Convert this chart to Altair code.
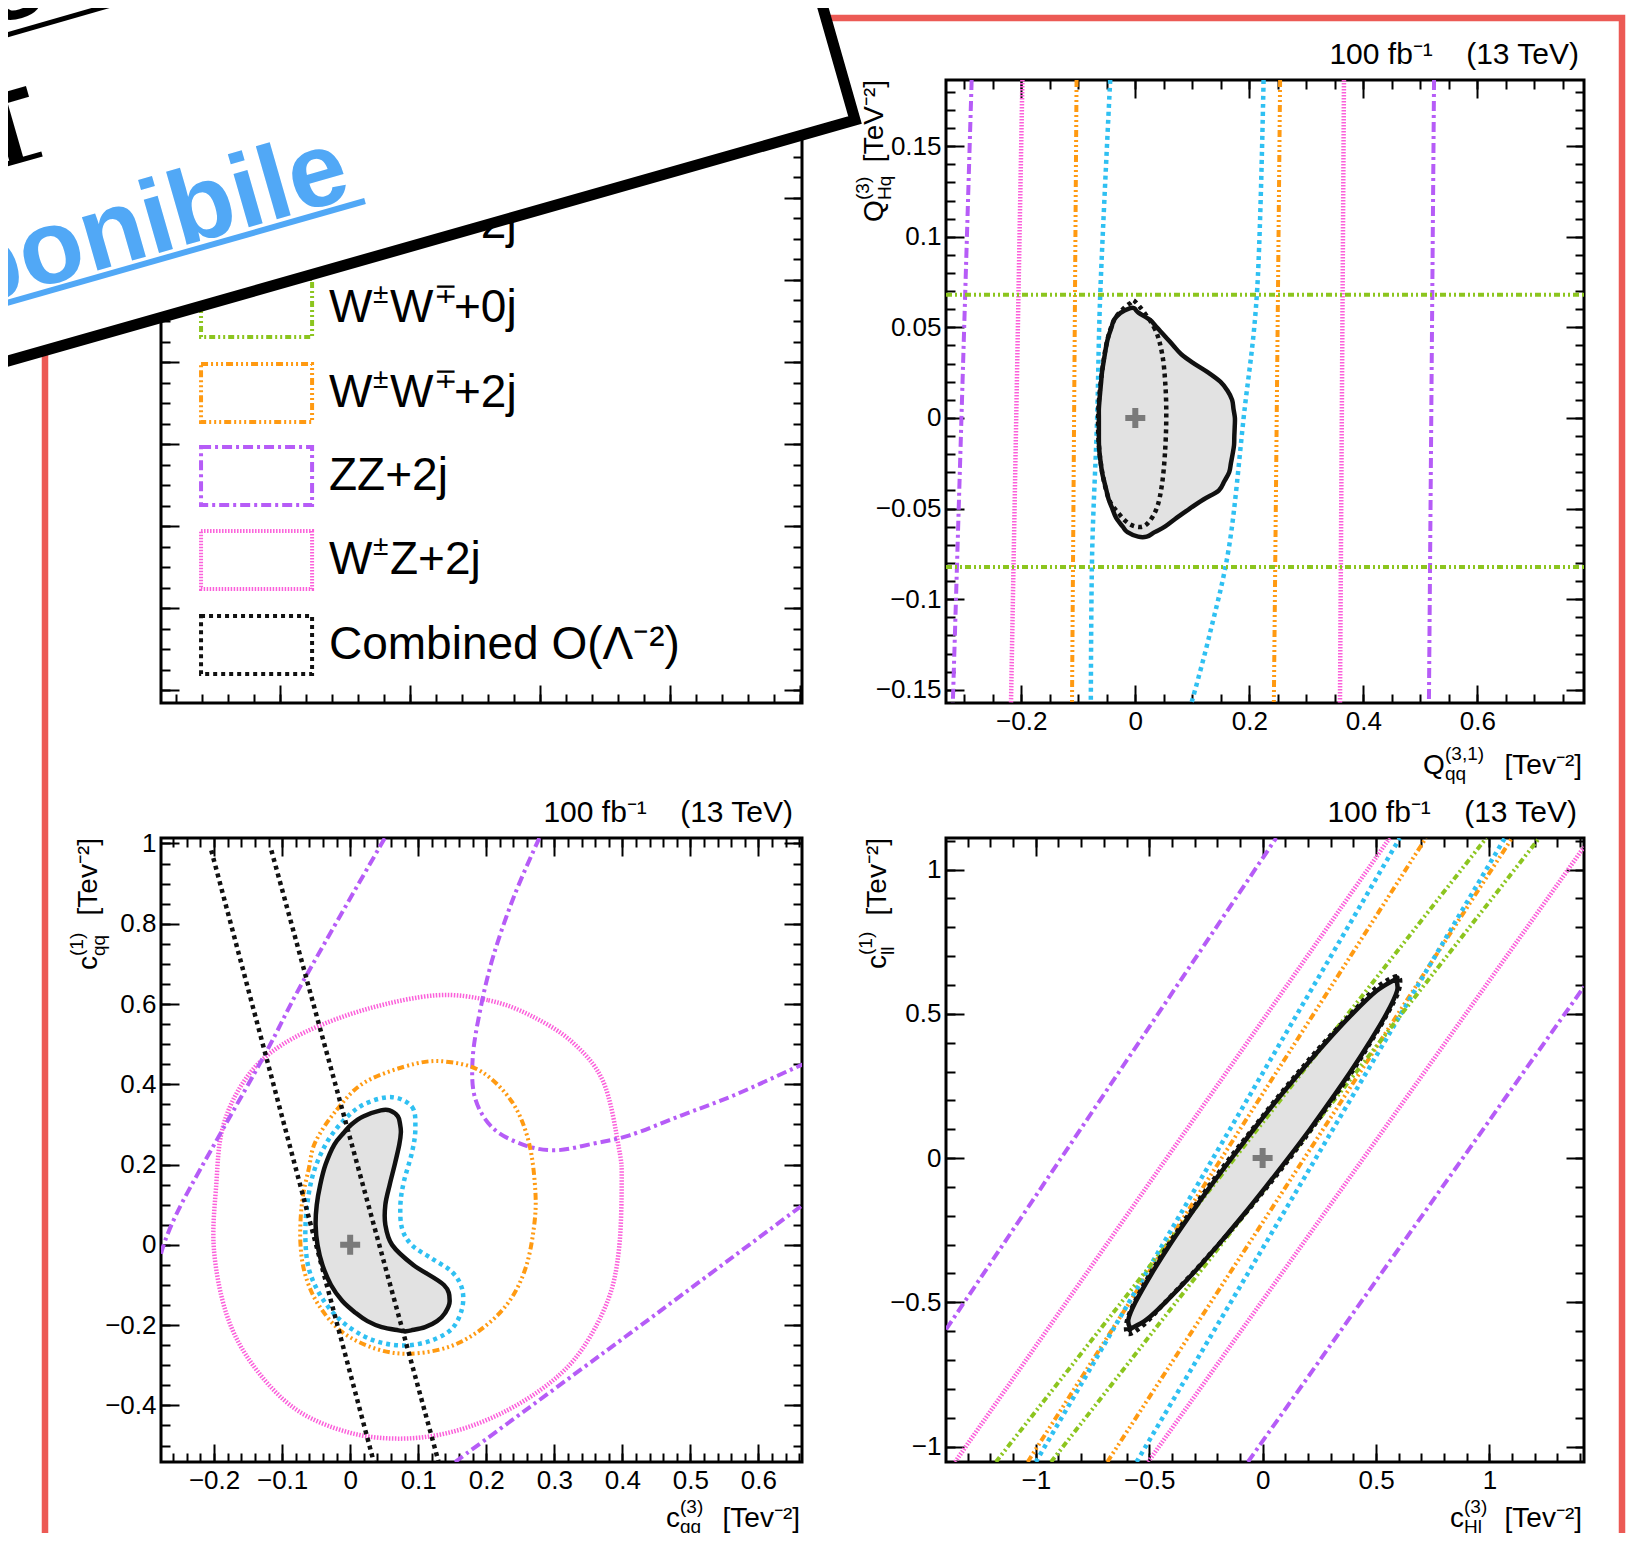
import altair as alt
import pandas as pd

FONT = "Liberation Sans, Arial, Helvetica, sans-serif"

# ---------------- colours & line styles ----------------
C_CYAN = "#2fc0f2"
C_GREEN = "#8cc51f"
C_ORANGE = "#ff9a12"
C_PURPLE = "#b65cf7"
C_PINK = "#fb60da"
C_BLACK = "#111111"
C_FILL = "#e2e2e2"
C_CROSS = "#7a7a7a"
RED = "#ec5a55"
BLUE = "#51a8f6"

STYLES = {
    "cyan": {"color": C_CYAN, "dash": [4, 4], "width": 4.5},
    "green": {"color": C_GREEN, "dash": [6, 3, 2, 3, 2, 3], "width": 4},
    "orange": {"color": C_ORANGE, "dash": [7, 3, 2, 3, 2, 3, 2, 3], "width": 4},
    "purple": {"color": C_PURPLE, "dash": [10, 4, 3, 4], "width": 4},
    "pink": {"color": C_PINK, "dash": [1.5, 1.5], "width": 4.5},
    "dotted": {"color": C_BLACK, "dash": [4, 4], "width": 4.5},
    "solid": {"color": C_BLACK, "dash": None, "width": 4.5},
}

# ---------------- panel sizes (px) ----------------
W_L, W_R = 641, 638
H_T, H_B = 623, 624
GAP_X, GAP_Y = 144, 135

sm_point = [0.0, 0.0]

# ================= top-right panel: Q_qq^(3,1) vs Q_Hq^(3) =================
tr_x_domain = [-0.332, 0.787]
tr_y_domain = [-0.1573, 0.1865]
tr_x_major = [-0.2, 0.0, 0.2, 0.4, 0.6]
tr_y_major = [-0.15, -0.1, -0.05, 0.0, 0.05, 0.1, 0.15]
tr_fill_y = [0.0605, 0.058, 0.054, 0.050, 0.045, 0.040, 0.035, 0.030, 0.025, 0.020, 0.015, 0.010, 0.005,
             0.000, -0.005, -0.010, -0.015, -0.020, -0.025, -0.030, -0.035, -0.040, -0.045, -0.050,
             -0.055, -0.060, -0.063, -0.0655]
tr_fill_xl = [-0.010, -0.026, -0.0376, -0.0417, -0.0471, -0.0508, -0.0535, -0.0561, -0.0585, -0.0599,
              -0.0614, -0.0628, -0.0639, -0.0639, -0.0639, -0.0639, -0.0637, -0.0625, -0.0605, -0.0583,
              -0.0546, -0.0506, -0.0466, -0.0403, -0.0338, -0.022, -0.0137, 0.005]
tr_fill_xr = [-0.002, 0.006, 0.0262, 0.0377, 0.0524, 0.0666, 0.0811, 0.1031, 0.1281, 0.1491, 0.1618,
              0.1698, 0.1722, 0.1747, 0.1744, 0.1737, 0.1732, 0.1707, 0.1677, 0.1647, 0.1561, 0.1465,
              0.1196, 0.0956, 0.073, 0.0519, 0.034, 0.020]
tr_dot_x = [0.0004, 0.0326, 0.047, 0.053, 0.0543, 0.052, 0.047, 0.0384, 0.0239, 0.0091, -0.0112, -0.0288,
            -0.046, -0.058, -0.0645, -0.0645, -0.058, -0.049, -0.037, -0.022, -0.008]
tr_dot_y = [0.064, 0.0502, 0.0355, 0.0171, -0.0013, -0.0197, -0.0363, -0.0491, -0.0574, -0.0602, -0.0583,
            -0.0528, -0.045, -0.030, -0.012, 0.006, 0.0263, 0.043, 0.054, 0.060, 0.0635]
tr_vline_top = {"purple": [-0.287, 0.524], "pink": [-0.198, 0.366], "orange": [-0.103, 0.254]}
tr_vline_bot = {"purple": [-0.320, 0.515], "pink": [-0.218, 0.359], "orange": [-0.111, 0.243]}
tr_cyan_l_x = [-0.044, -0.061, -0.067, -0.0757, -0.078]
tr_cyan_l_y = [0.1865, 0.0723, -0.001, -0.075, -0.1573]
tr_cyan_r_x = [0.225, 0.214, 0.19, 0.165, 0.13, 0.0985]
tr_cyan_r_y = [0.1865, 0.072, 0.0, -0.07, -0.12, -0.1573]
tr_green_y = [0.068, -0.0822]

# ================= bottom-left panel: c_qq^(3) vs c_qq^(1) =================
bl_x_domain = [-0.278, 0.664]
bl_y_domain = [-0.541, 1.0137]
bl_x_major = [-0.2, -0.1, 0.0, 0.1, 0.2, 0.3, 0.4, 0.5, 0.6]
bl_y_major = [-0.4, -0.2, 0.0, 0.2, 0.4, 0.6, 0.8, 1.0]
bl_fill_y = [0.335, 0.32, 0.30, 0.28, 0.25, 0.20, 0.15, 0.10, 0.05, 0.0, -0.05, -0.10, -0.14, -0.17,
             -0.19, -0.205, -0.213, -0.2155]
bl_fill_xl = [0.045, 0.019, 0.0018, -0.009, -0.0233, -0.0362, -0.044, -0.0491, -0.0508, -0.048, -0.0408,
              -0.0282, -0.0115, 0.0083, 0.0254, 0.0464, 0.071, 0.081]
bl_fill_xr = [0.058, 0.0701, 0.0734, 0.0745, 0.0722, 0.0655, 0.0581, 0.0517, 0.0517, 0.0616, 0.0928,
              0.1378, 0.1462, 0.1393, 0.1276, 0.1101, 0.0896, 0.081]
bl_cyan_x = [0.0614, 0.091, 0.0958, 0.091, 0.0788, 0.0738, 0.0763, 0.091, 0.1204, 0.1497, 0.1644, 0.1644,
             0.1497, 0.1204, 0.0861, 0.0517, 0.0175, -0.0168, -0.0438, -0.0608, -0.0658, -0.0633, -0.0535,
             -0.0339, -0.0071, 0.0223]
bl_cyan_y = [0.368, 0.3435, 0.2895, 0.2314, 0.1567, 0.0987, 0.0404, -0.001, -0.0344, -0.0675, -0.1091,
             -0.1589, -0.2088, -0.2377, -0.2501, -0.2461, -0.2252, -0.1839, -0.1256, -0.0593, 0.0154,
             0.0987, 0.1816, 0.2564, 0.3144, 0.3518]
bl_orange_x = [-0.0511, -0.02, 0.0223, 0.0958, 0.1449, 0.1938, 0.2379, 0.2625, 0.2722, 0.2698, 0.2575,
               0.2331, 0.1938, 0.1449, 0.0861, 0.037, -0.0119, -0.0461, -0.0658, -0.0732, -0.0707,
               -0.0608]
bl_orange_y = [0.2564, 0.336, 0.4058, 0.4514, 0.4557, 0.4307, 0.356, 0.2564, 0.1318, 0.0404, -0.0593,
               -0.1423, -0.2088, -0.2544, -0.2711, -0.2586, -0.217, -0.1505, -0.0757, 0.0072, 0.1069,
               0.1898]
bl_pink_x = [0.1262, 0.2031, 0.2644, 0.3262, 0.3721, 0.3951, 0.399, 0.3951, 0.3797, 0.3414, 0.2952,
             0.2262, 0.1493, 0.0724, -0.0046, -0.0813, -0.1427, -0.1812, -0.2003, -0.1965, -0.1888,
             -0.1658, -0.1274, -0.0658, 0.0263]
bl_pink_y = [0.6218, 0.6094, 0.572, 0.5055, 0.4058, 0.2397, 0.1567, -0.0095, -0.134, -0.2586, -0.3416,
             -0.4163, -0.4661, -0.4828, -0.4661, -0.4081, -0.3, -0.1754, -0.0095, 0.1567, 0.2813,
             0.3809, 0.4639, 0.5304, 0.5884]
bl_purple_a_x = [-0.278, -0.2464, -0.1274, -0.0697, 0.051]
bl_purple_a_y = [-0.022, 0.107, 0.468, 0.655, 1.0137]
bl_purple_b_x = [0.278, 0.2414, 0.2107, 0.1915, 0.180, 0.1838, 0.2107, 0.2569, 0.3029, 0.3566, 0.4106,
                 0.4873, 0.5641, 0.6564, 0.664]
bl_purple_b_y = [1.0137, 0.871, 0.7215, 0.5885, 0.4639, 0.3642, 0.2895, 0.2481, 0.2357, 0.2521, 0.273,
                 0.3229, 0.3727, 0.4432, 0.447]
bl_purple_c_x = [0.154, 0.4106, 0.664]
bl_purple_c_y = [-0.541, -0.2212, 0.098]
bl_dot1_x = [-0.2041, 0.0347]
bl_dot2_x = [-0.1158, 0.130]
bl_dot_y = [0.983, -0.541]

# ================= bottom-right panel: c_Hl^(3) vs c_ll^(1) =================
br_x_domain = [-1.396, 1.417]
br_y_domain = [-1.0534, 1.1095]
br_x_major = [-1.0, -0.5, 0.0, 0.5, 1.0]
br_y_major = [-1.0, -0.5, 0.0, 0.5, 1.0]
br_fill_y = [0.621, 0.58, 0.5, 0.4, 0.3, 0.2, 0.1, 0.0, -0.1, -0.2, -0.3, -0.4, -0.5, -0.56, -0.592]
br_fill_xl = [0.588, 0.503, 0.396, 0.278, 0.168, 0.062, -0.039, -0.137, -0.232, -0.322, -0.409, -0.489,
              -0.561, -0.592, -0.583]
br_fill_xr = [0.588, 0.593, 0.546, 0.470, 0.388, 0.300, 0.209, 0.113, 0.014, -0.088, -0.195, -0.307,
              -0.429, -0.512, -0.583]
br_dot_x = [0.595, 0.50, 0.39, 0.27, 0.16, 0.055, -0.045, -0.145, -0.24, -0.33, -0.415, -0.495, -0.565,
            -0.60, -0.59, -0.52, -0.43, -0.31, -0.195, -0.085, 0.02, 0.12, 0.215, 0.305, 0.395, 0.475,
            0.55, 0.60]
br_dot_y = [0.63, 0.59, 0.50, 0.40, 0.30, 0.20, 0.10, 0.0, -0.10, -0.20, -0.30, -0.40, -0.50, -0.57,
            -0.61, -0.575, -0.50, -0.40, -0.30, -0.20, -0.10, 0.0, 0.10, 0.20, 0.30, 0.40, 0.50, 0.58]
br_lines = {
    "pink": [([-1.356, 0.56], [-1.0534, 1.1095]), ([-0.505, 1.417], [-1.0534, 1.078])],
    "purple": [([-1.396, 0.06], [-0.594, 1.1095]), ([-0.065, 1.417], [-1.0534, 0.594])],
    "orange": [([-1.036, 0.72], [-1.0534, 1.1095]), ([-0.685, 1.10], [-1.0534, 1.1095])],
    "cyan": [([-1.0, 0.605], [-1.0534, 1.1095]), ([-0.556, 1.068], [-1.0534, 1.1095])],
    "green": [([-1.176, 0.986], [-1.0534, 1.1095]), ([-0.933, 1.22], [-1.0534, 1.1095])],
}

# ================= legend panel =================
lg_x_domain = [-0.915, 4.015]
lg_y_domain = [-0.1585, 7.439]
# each label is split into pieces: (text, x-offset px, font size, raise px)
legend_pieces = [
    [("W", 0, 46, 0), ("\u00b1", 44, 28, -13), ("W", 61, 46, 0), ("\u00b1", 105, 28, -13), ("+2j", 125, 46, 0)],
    [("W", 0, 46, 0), ("\u00b1", 44, 28, -13), ("W", 61, 46, 0), ("\u2213", 105, 28, -13), ("+0j", 125, 46, 0)],
    [("W", 0, 46, 0), ("\u00b1", 44, 28, -13), ("W", 61, 46, 0), ("\u2213", 105, 28, -13), ("+2j", 125, 46, 0)],
    [("ZZ+2j", 0, 46, 0)],
    [("W", 0, 46, 0), ("\u00b1", 44, 28, -13), ("Z+2j", 61, 46, 0)],
    [("Combined O(\u039b\u207b\u00b2)", 0, 46, 0)],
]
legend_styles = ["cyan", "green", "orange", "purple", "pink", "dotted"]
legend_pos = [5.683, 4.659, 3.622, 2.61, 1.585, 0.549]
legend_box_x = [-0.607, 0.247]
legend_box_half = 0.354
legend_text_x = 0.377

NB = "\u00a0"
LUMI = "100 fb\u207b\u00b9" + NB * 4 + "(13 TeV)"
UNIT = "[Tev\u207b\u00b2]"

ONE = pd.DataFrame({"k": [0]})
CROSS_PATH = "M-1,-0.3H-0.3V-1H0.3V-0.3H1V0.3H0.3V1H-0.3V0.3H-1Z"


def ticks_in(start, stop, step, dom):
    vals = []
    k = 0
    while True:
        v = round(start + k * step, 6)
        if v > stop + 1e-9:
            break
        if dom[0] <= v <= dom[1]:
            vals.append(v)
        k += 1
    return vals


def scales(xd, yd):
    return (alt.Scale(domain=xd, nice=False, zero=False),
            alt.Scale(domain=yd, nice=False, zero=False))


def seg_df(segments):
    rows = []
    for s, (xs_, ys_) in enumerate(segments):
        for i, (a, b) in enumerate(zip(xs_, ys_)):
            rows.append({"seg": s, "i": i, "x": a, "y": b})
    return pd.DataFrame(rows)


def line_layer(segments, style, xs, ys, interp="linear"):
    st = STYLES[style]
    kw = dict(color=st["color"], strokeWidth=st["width"], clip=True, strokeCap="butt", interpolate=interp)
    if st["dash"]:
        kw["strokeDash"] = st["dash"]
    return alt.Chart(seg_df(segments)).mark_line(**kw).encode(
        x=alt.X("x:Q", scale=xs, axis=None),
        y=alt.Y("y:Q", scale=ys, axis=None),
        detail="seg:N",
        order="i:Q",
    )


def fill_layers(fy, fxl, fxr, xs, ys):
    ox = list(fxl) + list(reversed(fxr))
    oy = list(fy) + list(reversed(fy))
    poly = seg_df([(ox, oy)])
    filled = alt.Chart(poly).mark_line(filled=True, fill=C_FILL, stroke=C_FILL, strokeWidth=1,
                                       interpolate="cardinal-closed", clip=True).encode(
        x=alt.X("x:Q", scale=xs, axis=None),
        y=alt.Y("y:Q", scale=ys, axis=None),
        order="i:Q",
    )
    outline = line_layer([(ox, oy)], "solid", xs, ys, interp="cardinal-closed")
    return filled, outline


def cross_layer(xs, ys):
    df = pd.DataFrame({"x": [sm_point[0]], "y": [sm_point[1]]})
    return alt.Chart(df).mark_point(shape=CROSS_PATH, size=400, filled=True, color=C_CROSS,
                                    opacity=1).encode(
        x=alt.X("x:Q", scale=xs, axis=None), y=alt.Y("y:Q", scale=ys, axis=None))


def axis_layers(xs, ys, xdom, ydom, xmaj, xmin, ymaj, ymin, W, H, labels=True):
    d = pd.DataFrame({"x": [xdom[0]], "y": [ydom[0]]})
    base = alt.Chart(d).mark_point(opacity=0)
    out = []
    if labels:
        lab = dict(ticks=False, domain=False, grid=False, labels=True, format="~g", labelFontSize=26,
                   labelFont=FONT, labelColor="black", labelPadding=5, labelFlush=False,
                   labelOverlap=False, title=None)
        out.append(base.encode(
            x=alt.X("x:Q", scale=xs, axis=alt.Axis(orient="bottom", values=xmaj, **lab)),
            y=alt.Y("y:Q", scale=ys, axis=alt.Axis(orient="left", values=ymaj, **lab))))
    specs = [("top", -H, xmaj, 18, "right", -W, ymaj, 18),
             ("top", -H, xmin, 9, "right", -W, ymin, 9),
             ("bottom", -H, xmaj, 18, "left", -W, ymaj, 18),
             ("bottom", -H, xmin, 9, "left", -W, ymin, 9)]
    for xo, xoff, xv, xts, yo, yoff, yv, yts in specs:
        common = dict(grid=False, domain=False, labels=False, ticks=True, title=None,
                      tickColor="black", tickWidth=2)
        out.append(base.encode(
            x=alt.X("x:Q", scale=xs, axis=alt.Axis(orient=xo, offset=xoff, values=xv, tickSize=xts, **common)),
            y=alt.Y("y:Q", scale=ys, axis=alt.Axis(orient=yo, offset=yoff, values=yv, tickSize=yts, **common))))
    return out


def txt(text, x, y, size, align="left", angle=0, weight="normal", color="black", baseline="alphabetic"):
    kw = dict(text=text, align=align, baseline=baseline, fontSize=size, font=FONT,
              fontWeight=weight, color=color)
    if angle:
        kw["angle"] = angle
    return alt.Chart(ONE).mark_text(**kw).encode(x=alt.value(x), y=alt.value(y))


def x_title(main, sup, sub, unit, x0, base, W, wmain):
    return [txt(main, x0, base, 28), txt(sup, x0 + wmain, base - 14, 19),
            txt(sub, x0 + wmain, base + 6, 19), txt(unit, W - 2, base, 28, align="right")]


def y_title(main, sup, sub, unit, y0, base, wmain):
    return [txt(main, base, y0, 28, angle=270), txt(sup, base - 14, y0 - wmain, 19, angle=270),
            txt(sub, base + 8, y0 - wmain, 19, angle=270),
            txt(unit, base, 0, 28, align="right", angle=270)]


def panel(layers, W, H):
    return alt.layer(*layers).resolve_axis(x="independent", y="independent").properties(width=W, height=H)


# ---------------- legend panel ----------------
lxs, lys = scales(lg_x_domain, lg_y_domain)
leg_layers = axis_layers(lxs, lys, lg_x_domain, lg_y_domain,
                         ticks_in(0, 4, 1, lg_x_domain), ticks_in(-1, 4, 0.2, lg_x_domain),
                         ticks_in(0, 7, 1, lg_y_domain), ticks_in(0, 7.5, 0.25, lg_y_domain),
                         W_L, H_T, labels=False)
for pieces, sty, pos in zip(legend_pieces, legend_styles, legend_pos):
    st = STYLES[sty]
    bdf = pd.DataFrame({"x": [legend_box_x[0]], "x2": [legend_box_x[1]],
                        "y": [pos - legend_box_half], "y2": [pos + legend_box_half]})
    leg_layers.append(alt.Chart(bdf).mark_rect(filled=False, stroke=st["color"], strokeDash=st["dash"],
                                                strokeWidth=4, fillOpacity=0).encode(
        x=alt.X("x:Q", scale=lxs, axis=None), x2="x2:Q",
        y=alt.Y("y:Q", scale=lys, axis=None), y2="y2:Q"))
    for text, dx, size, dy in pieces:
        tdf = pd.DataFrame({"x": [legend_text_x], "y": [pos], "t": [text]})
        leg_layers.append(alt.Chart(tdf).mark_text(align="left", baseline="middle", fontSize=size, font=FONT,
                                                   color="black", dx=dx, dy=dy).encode(
            x=alt.X("x:Q", scale=lxs, axis=None), y=alt.Y("y:Q", scale=lys, axis=None), text="t:N"))
legend_panel = panel(leg_layers, W_L, H_T)

# ---------------- top-right panel ----------------
xs, ys = scales(tr_x_domain, tr_y_domain)
tr_fill, tr_outline = fill_layers(tr_fill_y, tr_fill_xl, tr_fill_xr, xs, ys)
tr_layers = [tr_fill]
tr_layers += axis_layers(xs, ys, tr_x_domain, tr_y_domain, tr_x_major, ticks_in(-0.35, 0.8, 0.05, tr_x_domain),
                         tr_y_major, ticks_in(-0.16, 0.19, 0.01, tr_y_domain), W_R, H_T)
for sty in ["pink", "purple", "orange"]:
    segs = [([t, b], [tr_y_domain[1], tr_y_domain[0]]) for t, b in zip(tr_vline_top[sty], tr_vline_bot[sty])]
    tr_layers.append(line_layer(segs, sty, xs, ys))
tr_layers.append(line_layer([(tr_cyan_l_x, tr_cyan_l_y), (tr_cyan_r_x, tr_cyan_r_y)], "cyan", xs, ys,
                            interp="cardinal"))
tr_layers.append(line_layer([(tr_x_domain, [g, g]) for g in tr_green_y], "green", xs, ys))
tr_layers.append(tr_outline)
tr_layers.append(line_layer([(tr_dot_x, tr_dot_y)], "dotted", xs, ys, interp="cardinal-closed"))
tr_layers.append(cross_layer(xs, ys))
tr_layers.append(txt(LUMI, W_R - 5, -16, 30, align="right"))
tr_layers += x_title("Q", "(3,1)", "qq", UNIT, 477, 694, W_R, 22)
tr_layers += y_title("Q", "(3)", "Hq", "[TeV\u207b\u00b2]", 142, -63, 22)

# ---- decorations on the page (overlay banner and red frame), TR-local pixel coords ----
OX, OY = 944, 78


def px(v):
    return v - OX


def py(v):
    return v - OY


def rule(x1, y1, x2, y2, color, w, opacity=1):
    return alt.Chart(ONE).mark_rule(color=color, strokeWidth=w, opacity=opacity).encode(
        x=alt.value(px(x1)), y=alt.value(py(y1)), x2=alt.value(px(x2)), y2=alt.value(py(y2)))


BANNER_PATH = "M0,0L-1058,301L-1168,-84L-110,-385Z"
tr_layers.append(alt.Chart(ONE).mark_rect(filled=False, stroke=RED, strokeWidth=6.5, fillOpacity=0).encode(
    x=alt.value(px(43)), x2=alt.value(px(1620)), y=alt.value(py(16)), y2=alt.value(py(1600))))
tr_layers.append(alt.Chart(ONE).mark_point(shape=BANNER_PATH, size=4, filled=True, fill="white",
                                           stroke="black", strokeWidth=11, opacity=1,
                                           strokeJoin="miter").encode(
    x=alt.value(px(853)), y=alt.value(py(118))))
tr_layers.append(txt("Documento in fase", px(100), py(-8), 100, align="right", angle=344, weight="bold"))
tr_layers.append(txt("REPORT", px(44), py(150), 100, align="right", angle=344, weight="bold"))
tr_layers.append(txt("disponibile", px(352), py(195), 105, align="right", angle=344, weight="bold", color=BLUE))
tr_layers.append(rule(-20, 40, 130, -3, "black", 5))
tr_layers.append(rule(-20, 169, 40, 152, "black", 5))
tr_layers.append(rule(-20, 308, 363, 199, BLUE, 6))
tr_layers.append(rule(-1041, -1122, -1040, -1122, "white", 1, opacity=0))  # layout anchor
tr_panel = panel(tr_layers, W_R, H_T)

# ---------------- bottom-left panel ----------------
xs, ys = scales(bl_x_domain, bl_y_domain)
bl_fill, bl_outline = fill_layers(bl_fill_y, bl_fill_xl, bl_fill_xr, xs, ys)
bl_layers = [bl_fill]
bl_layers += axis_layers(xs, ys, bl_x_domain, bl_y_domain, bl_x_major, ticks_in(-0.28, 0.66, 0.02, bl_x_domain),
                         bl_y_major, ticks_in(-0.55, 1.0, 0.05, bl_y_domain), W_L, H_B)
bl_layers.append(line_layer([(bl_pink_x, bl_pink_y)], "pink", xs, ys, interp="cardinal-closed"))
bl_layers.append(line_layer([(bl_purple_a_x, bl_purple_a_y), (bl_purple_b_x, bl_purple_b_y),
                             (bl_purple_c_x, bl_purple_c_y)], "purple", xs, ys, interp="cardinal"))
bl_layers.append(line_layer([(bl_orange_x, bl_orange_y)], "orange", xs, ys, interp="cardinal-closed"))
bl_layers.append(line_layer([(bl_cyan_x, bl_cyan_y)], "cyan", xs, ys, interp="cardinal-closed"))
bl_layers.append(bl_outline)
bl_layers.append(line_layer([(bl_dot1_x, bl_dot_y), (bl_dot2_x, bl_dot_y)], "dotted", xs, ys))
bl_layers.append(cross_layer(xs, ys))
bl_layers.append(txt(LUMI, W_L - 9, -16, 30, align="right"))
bl_layers += x_title("c", "(3)", "qq", UNIT, 505, 689, W_L, 14)
bl_layers += y_title("c", "(1)", "qq", UNIT, 132, -64, 14)
bl_panel = panel(bl_layers, W_L, H_B)

# ---------------- bottom-right panel ----------------
xs, ys = scales(br_x_domain, br_y_domain)
br_fill, br_outline = fill_layers(br_fill_y, br_fill_xl, br_fill_xr, xs, ys)
br_layers = [br_fill]
br_layers += axis_layers(xs, ys, br_x_domain, br_y_domain, br_x_major, ticks_in(-1.4, 1.4, 0.1, br_x_domain),
                         br_y_major, ticks_in(-1.1, 1.1, 0.1, br_y_domain), W_R, H_B)
for sty in ["pink", "purple", "orange", "cyan", "green"]:
    br_layers.append(line_layer(br_lines[sty], sty, xs, ys))
br_layers.append(br_outline)
br_layers.append(line_layer([(br_dot_x, br_dot_y)], "dotted", xs, ys, interp="cardinal-closed"))
br_layers.append(cross_layer(xs, ys))
br_layers.append(txt(LUMI, W_R - 7, -16, 30, align="right"))
br_layers += x_title("c", "(3)", "Hl", UNIT, 504, 689, W_R, 14)
br_layers += y_title("c", "(1)", "ll", UNIT, 131, -60, 14)
br_panel = panel(br_layers, W_R, H_B)

chart = alt.concat(
    legend_panel, tr_panel, bl_panel, br_panel,
    columns=2,
    spacing={"row": GAP_Y, "column": GAP_X},
    bounds="flush",
    padding={"left": -1049, "top": -1130, "right": 0, "bottom": -74},
).configure_view(stroke="black", strokeWidth=3).configure_axis(
    labelFont=FONT, labelColor="black", tickColor="black", tickWidth=2, grid=False)

chart.save("out.html", embed_options={"renderer": "svg", "actions": False})
